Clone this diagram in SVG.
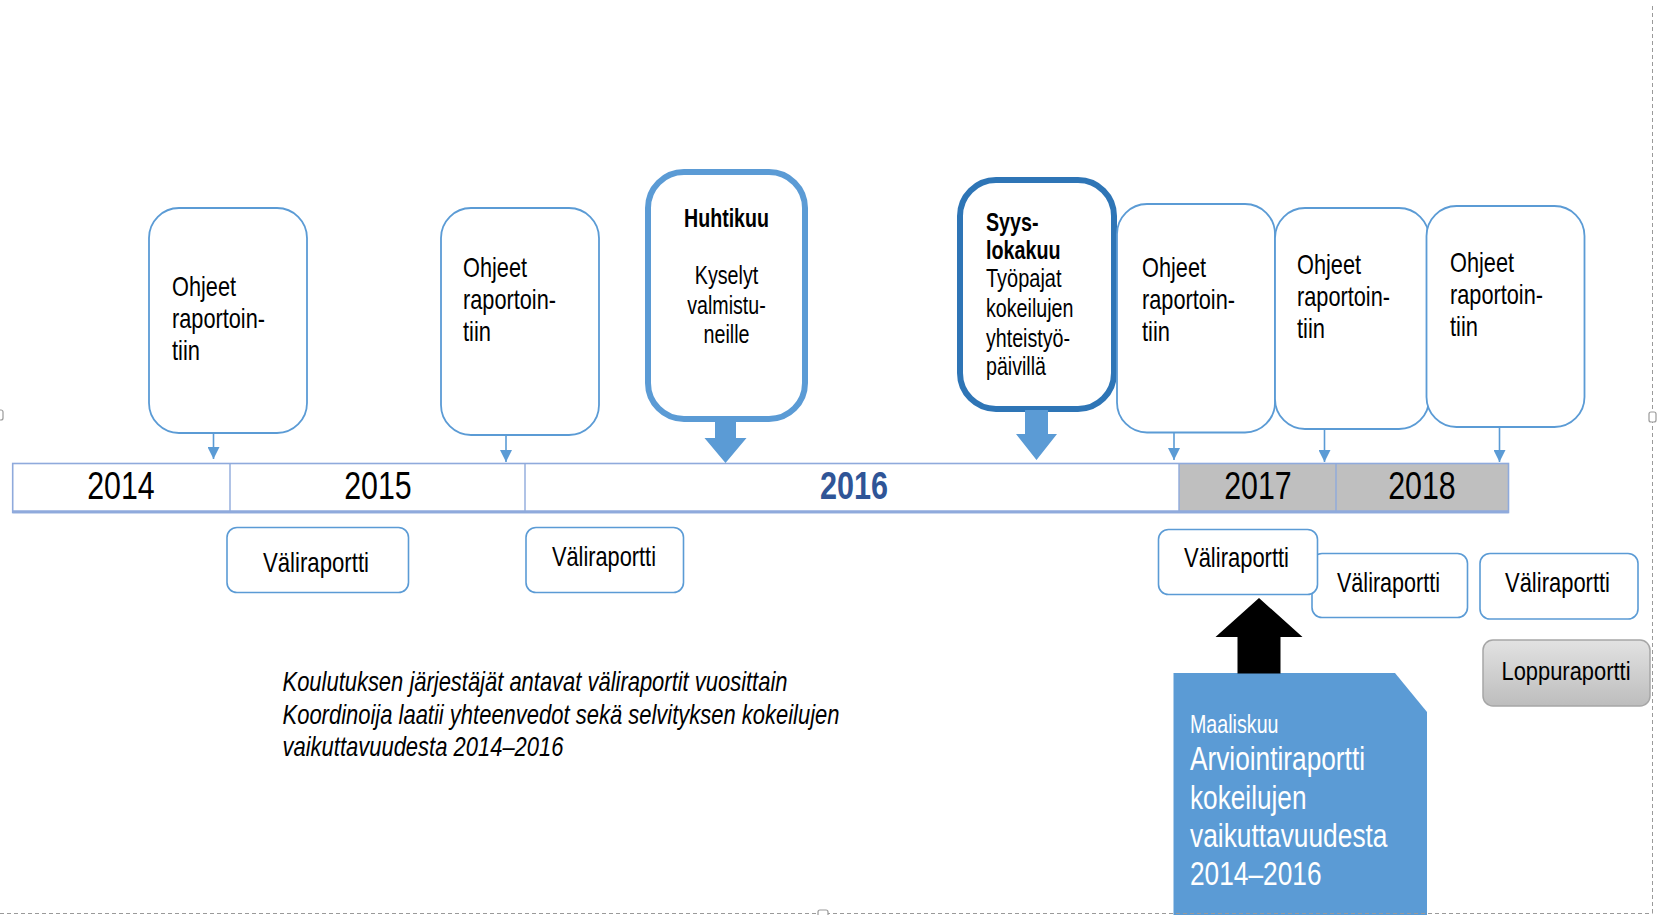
<svg xmlns="http://www.w3.org/2000/svg" width="1657" height="915" viewBox="0 0 1657 915">
<defs>
<style>
.t{font-family:"Liberation Sans Narrow","Arial Narrow","Liberation Sans",Arial,sans-serif;fill:#000}
.b{font-weight:bold}
.o{font-size:28px}
.m{font-size:25px}
.y{font-size:39px}
.v{font-size:28px}
.w{fill:#fff}
.box{fill:#fff;stroke:#5B9BD5;stroke-width:1.8}
.vbox{fill:#fff;stroke:#5B9BD5;stroke-width:1.6}
.conn{stroke:#5B9BD5;stroke-width:1.6;fill:none;marker-end:url(#ah)}
.frame{stroke:#9a9a9a;stroke-width:1;stroke-dasharray:4 3;fill:none}
</style>
<marker id="ah" viewBox="0 0 12 12" refX="12" refY="6" markerWidth="12" markerHeight="12" markerUnits="userSpaceOnUse" orient="auto">
<path d="M0,0 L12,6 L0,12 z" fill="#5B9BD5"/>
</marker>
<linearGradient id="gray" x1="0" y1="0" x2="0" y2="1">
<stop offset="0" stop-color="#E2E2E2"/>
<stop offset="1" stop-color="#BDBDBD"/>
</linearGradient>
</defs>
<rect width="1657" height="915" fill="#fff"/>

<!-- timeline -->
<g id="timeline">
<rect x="1179" y="463.5" width="329.5" height="49" fill="#BFBFBF"/>
<rect x="12.7" y="463.5" width="1495.8" height="49" fill="none" stroke="#8FAADC" stroke-width="1.6"/>
<line x1="12.7" y1="511.8" x2="1508.5" y2="511.8" stroke="#8FAADC" stroke-width="3"/>
<g stroke="#8FAADC" stroke-width="1.4">
<line x1="230" y1="463.5" x2="230" y2="511"/>
<line x1="525" y1="463.5" x2="525" y2="511"/>
<line x1="1179" y1="463.5" x2="1179" y2="511"/>
<line x1="1336" y1="463.5" x2="1336" y2="511"/>
</g>
<g class="t y" text-anchor="middle">
<text x="121" y="499" textLength="67.5" lengthAdjust="spacingAndGlyphs">2014</text>
<text x="378" y="499" textLength="67.5" lengthAdjust="spacingAndGlyphs">2015</text>
<text x="854" y="499" textLength="68" lengthAdjust="spacingAndGlyphs" class="b" style="fill:#2F5597">2016</text>
<text x="1258" y="499" textLength="67.5" lengthAdjust="spacingAndGlyphs">2017</text>
<text x="1422" y="499" textLength="67.5" lengthAdjust="spacingAndGlyphs">2018</text>
</g>
</g>

<!-- Ohjeet boxes -->
<g id="ohjeet1">
<rect class="box" x="149" y="208" width="158" height="225" rx="30"/>
<text class="t o" x="172" y="296" textLength="64" lengthAdjust="spacingAndGlyphs">Ohjeet</text>
<text class="t o" x="172" y="328" textLength="93" lengthAdjust="spacingAndGlyphs">raportoin-</text>
<text class="t o" x="172" y="360" textLength="28" lengthAdjust="spacingAndGlyphs">tiin</text>
</g>
<g id="ohjeet2">
<rect class="box" x="441" y="208" width="158" height="227" rx="30"/>
<text class="t o" x="463" y="276.5" textLength="64" lengthAdjust="spacingAndGlyphs">Ohjeet</text>
<text class="t o" x="463" y="308.5" textLength="93" lengthAdjust="spacingAndGlyphs">raportoin-</text>
<text class="t o" x="463" y="340.5" textLength="28" lengthAdjust="spacingAndGlyphs">tiin</text>
</g>

<g id="huhtikuu">
<rect x="648" y="172" width="157" height="247" rx="36" fill="#fff" stroke="#5B9BD5" stroke-width="6"/>
<g class="t m" text-anchor="middle">
<text class="b" x="726.5" y="226.5" textLength="85" lengthAdjust="spacingAndGlyphs">Huhtikuu</text>
<text x="726.5" y="284" textLength="63.5" lengthAdjust="spacingAndGlyphs">Kyselyt</text>
<text x="726.5" y="313.5" textLength="78.5" lengthAdjust="spacingAndGlyphs">valmistu-</text>
<text x="726.5" y="343" textLength="46" lengthAdjust="spacingAndGlyphs">neille</text>
</g>
</g>

<g id="syyslokakuu">
<rect x="960" y="180" width="154" height="229" rx="36" fill="#fff" stroke="#2E75B6" stroke-width="6"/>
<g class="t m">
<text class="b" x="986" y="230.5" textLength="52.5" lengthAdjust="spacingAndGlyphs">Syys-</text>
<text class="b" x="986" y="258.5" textLength="74.5" lengthAdjust="spacingAndGlyphs">lokakuu</text>
<text x="986" y="287" textLength="75.5" lengthAdjust="spacingAndGlyphs">Työpajat</text>
<text x="986" y="317" textLength="87.5" lengthAdjust="spacingAndGlyphs">kokeilujen</text>
<text x="986" y="346.5" textLength="84" lengthAdjust="spacingAndGlyphs">yhteistyö-</text>
<text x="986" y="375" textLength="60" lengthAdjust="spacingAndGlyphs">päivillä</text>
</g>
</g>

<g id="ohjeet3">
<rect class="box" x="1117" y="204" width="158" height="228.5" rx="30"/>
<text class="t o" x="1142" y="277" textLength="64" lengthAdjust="spacingAndGlyphs">Ohjeet</text>
<text class="t o" x="1142" y="309" textLength="93" lengthAdjust="spacingAndGlyphs">raportoin-</text>
<text class="t o" x="1142" y="341" textLength="28" lengthAdjust="spacingAndGlyphs">tiin</text>
</g>
<g id="ohjeet4">
<rect class="box" x="1275" y="208" width="154" height="221" rx="30"/>
<text class="t o" x="1297" y="273.5" textLength="64" lengthAdjust="spacingAndGlyphs">Ohjeet</text>
<text class="t o" x="1297" y="305.5" textLength="93" lengthAdjust="spacingAndGlyphs">raportoin-</text>
<text class="t o" x="1297" y="337.5" textLength="28" lengthAdjust="spacingAndGlyphs">tiin</text>
</g>
<g id="ohjeet5">
<rect class="box" x="1426.5" y="206" width="158" height="221" rx="30"/>
<text class="t o" x="1450" y="271.5" textLength="64" lengthAdjust="spacingAndGlyphs">Ohjeet</text>
<text class="t o" x="1450" y="303.5" textLength="93" lengthAdjust="spacingAndGlyphs">raportoin-</text>
<text class="t o" x="1450" y="335.5" textLength="28" lengthAdjust="spacingAndGlyphs">tiin</text>
</g>

<!-- Väliraportti boxes -->
<g id="vali1">
<rect class="vbox" x="227" y="527.5" width="181.5" height="65" rx="10"/>
<text class="t v" x="316" y="571.5" text-anchor="middle" textLength="106" lengthAdjust="spacingAndGlyphs">Väliraportti</text>
</g>
<g id="vali2">
<rect class="vbox" x="526" y="527.5" width="157.5" height="65" rx="10"/>
<text class="t v" x="604" y="565.5" text-anchor="middle" textLength="104" lengthAdjust="spacingAndGlyphs">Väliraportti</text>
</g>
<g id="vali4">
<rect class="vbox" x="1312" y="553.5" width="155.5" height="64" rx="10"/>
<text class="t v" x="1388.5" y="591.5" text-anchor="middle" textLength="103" lengthAdjust="spacingAndGlyphs">Väliraportti</text>
</g>
<g id="vali3">
<rect class="vbox" x="1158.5" y="529.5" width="159" height="65" rx="10"/>
<text class="t v" x="1236.5" y="566.5" text-anchor="middle" textLength="105" lengthAdjust="spacingAndGlyphs">Väliraportti</text>
</g>
<g id="vali5">
<rect class="vbox" x="1480" y="553.5" width="158" height="65.5" rx="10"/>
<text class="t v" x="1557.5" y="591.5" text-anchor="middle" textLength="105" lengthAdjust="spacingAndGlyphs">Väliraportti</text>
</g>
<g id="loppuraportti">
<rect x="1483" y="640" width="167" height="66" rx="10" fill="url(#gray)" stroke="#A6A6A6" stroke-width="1.5"/>
<text class="t" style="font-size:26.5px" x="1566" y="680" text-anchor="middle" textLength="129" lengthAdjust="spacingAndGlyphs">Loppuraportti</text>
</g>

<!-- Arviointiraportti document -->
<g id="arviointiraportti">
<path d="M1173.5,673 L1395,673 L1427,712 L1427,915 L1173.5,915 Z" fill="#5B9BD5"/>
<g class="t w">
<text x="1190" y="733" style="font-size:25px" textLength="88.5" lengthAdjust="spacingAndGlyphs">Maaliskuu</text>
<text x="1190" y="770" style="font-size:34px" textLength="175" lengthAdjust="spacingAndGlyphs">Arviointiraportti</text>
<text x="1190" y="808.5" style="font-size:34px" textLength="116.5" lengthAdjust="spacingAndGlyphs">kokeilujen</text>
<text x="1190" y="846.5" style="font-size:34px" textLength="197.5" lengthAdjust="spacingAndGlyphs">vaikuttavuudesta</text>
<text x="1190" y="884.5" style="font-size:34px" textLength="131.5" lengthAdjust="spacingAndGlyphs">2014–2016</text>
</g>
</g>

<!-- note -->
<g id="note" class="t" style="font-size:28px;font-style:italic">
<text x="282.5" y="690.5" textLength="505" lengthAdjust="spacingAndGlyphs">Koulutuksen järjestäjät antavat väliraportit vuosittain</text>
<text x="282.5" y="723.5" textLength="557" lengthAdjust="spacingAndGlyphs">Koordinoija laatii yhteenvedot sekä selvityksen kokeilujen</text>
<text x="282.5" y="755.5" textLength="281" lengthAdjust="spacingAndGlyphs">vaikuttavuudesta 2014–2016</text>
</g>

<!-- connectors -->
<g id="connectors">
<line class="conn" x1="213.5" y1="433" x2="213.5" y2="459"/>
<line class="conn" x1="506" y1="435" x2="506" y2="462"/>
<line class="conn" x1="1174" y1="432.5" x2="1174" y2="460"/>
<line class="conn" x1="1324.5" y1="429" x2="1324.5" y2="462"/>
<line class="conn" x1="1499.5" y1="427" x2="1499.5" y2="462"/>
<path d="M715,419 L736,419 L736,438 L746.5,438 L725.5,463 L704.5,438 L715,438 Z" fill="#5B9BD5"/>
<path d="M1025,410 L1048,410 L1048,434 L1057,434 L1036.5,460 L1016,434 L1025,434 Z" fill="#5B9BD5"/>
<path d="M1259,598 L1302.5,637 L1280.5,637 L1280.5,673.5 L1237.5,673.5 L1237.5,637 L1215.5,637 Z" fill="#000"/>
</g>

<!-- selection frame -->
<g id="frame">
<line class="frame" x1="1652.5" y1="6" x2="1652.5" y2="913.5"/>
<line class="frame" x1="0" y1="913.5" x2="1652.5" y2="913.5"/>
<rect x="1649" y="412" width="7" height="10" rx="2" fill="#fff" stroke="#9a9a9a" stroke-width="1.2"/>
<rect x="818" y="910" width="10" height="7" rx="2" fill="#fff" stroke="#9a9a9a" stroke-width="1.2"/>
<rect x="-4" y="410" width="7" height="10" rx="2" fill="#fff" stroke="#9a9a9a" stroke-width="1.2"/>
</g>
</svg>
